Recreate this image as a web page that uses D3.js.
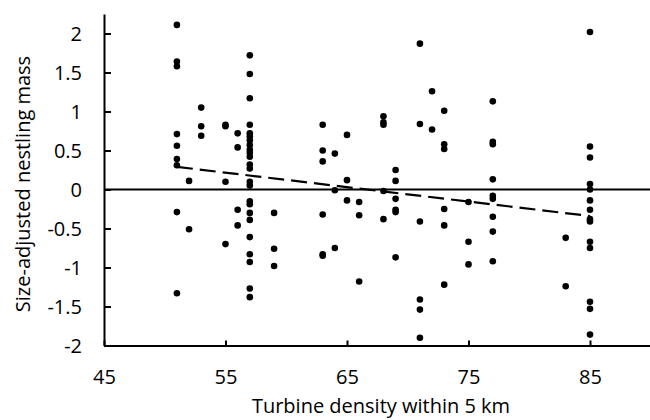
<!DOCTYPE html>
<html>
<head>
<meta charset="utf-8">
<script src="https://cdn.jsdelivr.net/npm/d3@7/dist/d3.min.js"></script>
<style>
  html, body { margin: 0; padding: 0; background: #fff; }
  svg { display: block; }
  text { font-family: "Open Sans", sans-serif; fill: #000; }
</style>
</head>
<body>
<svg id="chart" width="650" height="420"></svg>
<script>
// ---- data ----
const densities = [51, 52, 53, 55, 56, 57, 59, 63, 64, 65, 66, 68, 69, 71, 72, 73, 75, 77, 83, 85];
const masses = [
  [2.11, 1.64, 1.58, 0.71, 0.56, 0.39, 0.31, -0.29, -1.33],
  [0.11, -0.51],
  [1.05, 0.81, 0.69],
  [0.83, 0.81, 0.10, -0.70],
  [0.72, 0.54, -0.26, -0.46],
  [1.72, 1.48, 1.17, 0.83, 0.72, 0.68, 0.63, 0.57, 0.51, 0.47, 0.42, 0.32, 0.27, 0.10, 0.05, -0.15, -0.19, -0.30, -0.39, -0.61, -0.83, -0.93, -1.27, -1.38],
  [-0.30, -0.76, -0.98],
  [0.83, 0.50, 0.36, -0.32, -0.83, -0.85],
  [0.46, -0.01, -0.75],
  [0.70, 0.12, -0.14],
  [-0.16, -0.33, -1.18],
  [0.94, 0.86, 0.83, -0.02, -0.38],
  [0.25, 0.11, -0.12, -0.26, -0.29, -0.87],
  [1.87, 0.84, -0.41, -1.41, -1.54, -1.90],
  [1.26, 0.77],
  [1.01, 0.58, 0.52, -0.25, -0.46, -1.22],
  [-0.16, -0.67, -0.96],
  [1.13, 0.61, 0.58, 0.13, -0.08, -0.12, -0.35, -0.54, -0.92],
  [-0.62, -1.24],
  [2.02, 0.55, 0.41, 0.07, 0.00, -0.14, -0.26, -0.38, -0.41, -0.67, -0.75, -1.44, -1.53, -1.86]
];
const trendX = [51, 85];
const trendY = [0.29, -0.34];
const xTicks = [45, 55, 65, 75, 85];
const yTicks = [-2, -1.5, -1, -0.5, 0, 0.5, 1, 1.5, 2];
const xLabel = "Turbine density within 5 km";
const yLabel = "Size-adjusted nestling mass";

// ---- layout ----
const svg = d3.select("#chart");
const x = d3.scaleLinear().domain([45, 90]).range([104, 650.75]);
const y = d3.scaleLinear().domain([-2, 2.25]).range([345.5, 14]);

const points = [];
densities.forEach((d, i) => masses[i].forEach(m => points.push({ d, m })));

const plainFmt = d => String(d); // hyphen-minus like the original

// zero line
svg.append("line")
  .attr("x1", x(45)).attr("x2", x(90))
  .attr("y1", y(0)).attr("y2", y(0))
  .attr("stroke", "#000").attr("stroke-width", 2);

// y axis
const yAxis = d3.axisRight(y).tickValues(yTicks).tickSize(7).tickFormat(plainFmt).tickSizeOuter(0);
const gy = svg.append("g").attr("transform", `translate(${x(45)},0)`).call(yAxis);
gy.select(".domain").attr("stroke", "#000").attr("stroke-width", 2);
gy.selectAll(".tick line").attr("stroke", "#000").attr("stroke-width", 2);
gy.selectAll(".tick text")
  .attr("x", -22).attr("dy", "0.35em")
  .attr("text-anchor", "end")
  .style("font-size", "20px")
  .style("font-family", "'Open Sans', sans-serif");

// x axis
const xAxis = d3.axisTop(x).tickValues(xTicks).tickSize(5).tickFormat(plainFmt).tickSizeOuter(0);
const gx = svg.append("g").attr("transform", `translate(0,${y(-2)})`).call(xAxis);
gx.select(".domain").attr("stroke", "#000").attr("stroke-width", 2);
gx.selectAll(".tick line").attr("stroke", "#000").attr("stroke-width", 2);
gx.selectAll(".tick text")
  .attr("y", 38).attr("dy", 0)
  .attr("text-anchor", "middle")
  .style("font-size", "20px")
  .style("font-family", "'Open Sans', sans-serif");

// trend line
svg.append("path")
  .datum(trendX.map((d, i) => [d, trendY[i]]))
  .attr("d", d3.line().x(d => x(d[0])).y(d => y(d[1])))
  .attr("fill", "none")
  .attr("stroke", "#000")
  .attr("stroke-width", 2.2)
  .attr("stroke-dasharray", "16,7");

// points
svg.append("g").selectAll("circle")
  .data(points)
  .join("circle")
  .attr("cx", p => x(p.d))
  .attr("cy", p => y(p.m))
  .attr("r", 3.3)
  .attr("fill", "#000");

// labels
svg.append("text")
  .attr("x", 381).attr("y", 413)
  .attr("text-anchor", "middle")
  .style("font-size", "20px")
  .text(xLabel);

svg.append("text")
  .attr("transform", `translate(30,184) rotate(-90)`)
  .attr("text-anchor", "middle")
  .style("font-size", "20px")
  .text(yLabel);
</script>
</body>
</html>
